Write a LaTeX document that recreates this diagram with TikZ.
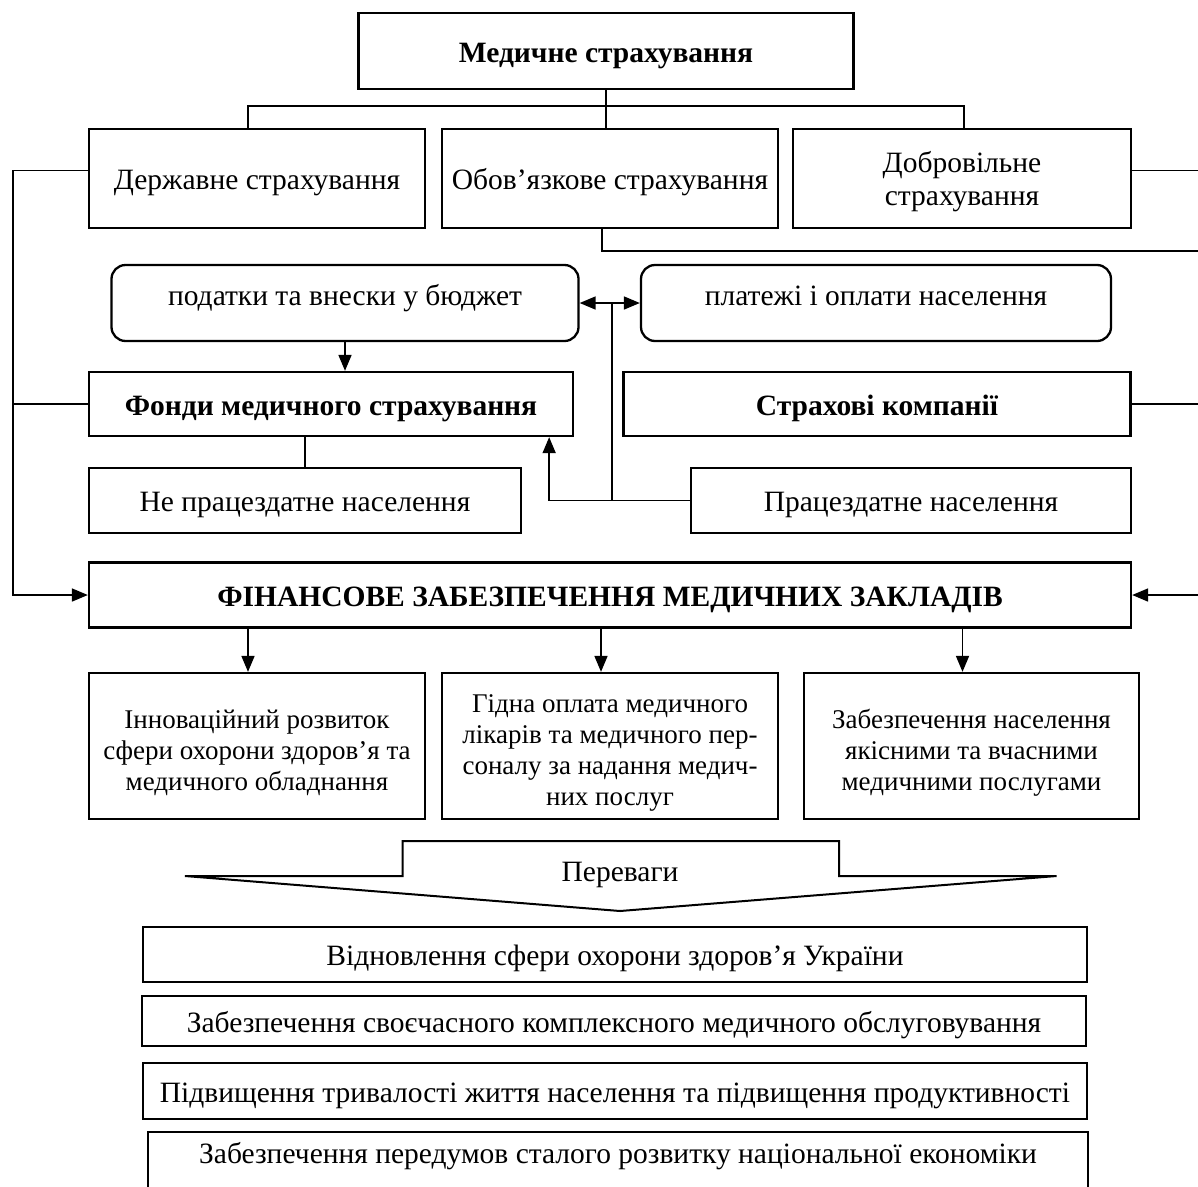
\documentclass[tikz,border=0pt]{standalone}
\usepackage{fontspec}
\setmainfont{Liberation Serif}
\usetikzlibrary{positioning,arrows.meta}

\def\topgap#1{\rule{0pt}{#1}}

\tikzset{
  box/.style={draw, line width=2.3pt, inner sep=0pt, align=center, text height=29pt, font=\fontsize{29.5}{33}\selectfont},
  bbox/.style={box, font=\fontsize{29.5}{33}\selectfont\bfseries},
  rbox/.style={box, rounded corners=14pt, text height=22pt, text depth=18pt},
  mbox/.style={box, text height=},
  sbox/.style={box, text height=, font=\fontsize{27}{31}\selectfont},
  link/.style={line width=1.7pt},
  arr/.style={link, -{Triangle[length=16pt,width=13pt]}},
  darr/.style={link, {Triangle[length=16pt,width=13pt]}-{Triangle[length=16pt,width=13pt]}}
}

\begin{document}
\begin{tikzpicture}[x=1pt, y=-1pt]
  \useasboundingbox (0,0) rectangle (1198,1186);

  % Insurance kinds
  \node[bbox, minimum width=495pt, minimum height=76pt] (med) at (606,51) {Медичне страхування};
  \node[box, minimum width=336pt, minimum height=99pt] (derzh) at (257,178.5) {Державне страхування};
  \node[box, minimum width=336pt, minimum height=99pt] (oboz) at (610,178.5) {Обов’язкове страхування};
  \node[mbox, minimum width=338pt, minimum height=99pt] (dobr) at (962,178.5) {\topgap{27pt}Добровільне\\страхування};

  \coordinate (bl) at (248,106);
  \coordinate (br) at (964,106);
  \draw[link] (bl |- derzh.north) -- (bl) -- (br) -- (br |- dobr.north);
  \draw[link] (med.south) -- (med.south |- oboz.north);

  % Sources of money
  \node[rbox, minimum width=467pt, minimum height=76pt] (pod) at (345,303) {податки та внески у бюджет};
  \node[rbox, minimum width=470pt, minimum height=76pt] (plat) at (876,303) {платежі і оплати населення};
  \draw[darr] (pod) -- (plat);

  % Funds and companies
  \node[bbox, minimum width=484pt, minimum height=64pt] (fondy) at (331,404) {Фонди медичного страхування};
  \node[bbox, minimum width=507pt, minimum height=64pt] (strah) at (877,404) {Страхові компанії};
  \node[box, minimum width=432pt, minimum height=65pt] (ne) at (305,500.5) {Не працездатне населення};
  \node[box, minimum width=440pt, minimum height=65pt] (prac) at (911,500.5) {Працездатне населення};

  \draw[arr] (pod.south) -- (pod.south |- fondy.north);
  \draw[link] (ne.north) -- (ne.north |- fondy.south);
  \coordinate (jn) at (612,303);
  \draw[link] (jn) -- (jn |- prac.west);
  \draw[arr] (prac.west) -| ([xshift=-25pt]fondy.south east);

  % Financing
  \node[bbox, minimum width=1042pt, minimum height=65pt] (fin) at (610,595) {ФІНАНСОВЕ ЗАБЕЗПЕЧЕННЯ МЕДИЧНИХ ЗАКЛАДІВ};

  \coordinate (lx) at (13,0);
  \coordinate (rx) at (1198,0);
  \coordinate (dl) at ([yshift=8pt]derzh.west);
  \coordinate (dr) at ([yshift=8pt]dobr.east);
  \coordinate (ob) at (602,251);
  \draw[arr] (dl) -- (dl -| lx) -- (lx |- fin.west) -- (fin.west);
  \draw[link] (fondy.west) -- (fondy.west -| lx);
  \draw[link] (dr) -- (dr -| rx);
  \draw[link] (oboz.south -| ob) -- (ob) -- (ob -| rx);
  \draw[link] (strah.east) -- (strah.east -| rx);
  \draw[arr] (fin.east -| rx) -- (fin.east);

  % Results
  \node[sbox, minimum width=336pt, minimum height=146pt] (inno) at (257,746) {\topgap{32pt}Інноваційний розвиток\\сфери охорони здоров’я та\\медичного обладнання};
  \node[sbox, minimum width=336pt, minimum height=146pt] (pay) at (610,746) {\topgap{32pt}Гідна оплата медичного\\лікарів та медичного пер-\\соналу за надання медич-\\них послуг};
  \node[sbox, minimum width=335pt, minimum height=146pt] (serv) at (971.5,746) {\topgap{32pt}Забезпечення населення\\якісними та вчасними\\медичними послугами};

  \foreach \b in {inno,pay,serv} {
    \path ([xshift=-9pt]\b.north) coordinate (t\b);
    \draw[arr] (t\b |- fin.south) -- (t\b);
  }

  % Advantages arrow
  \draw[line width=2pt] (185,876) -- (402.6,876) -- (402.6,841) -- (839,841) -- (839,876) -- (1056.5,876) -- (620,911) -- cycle;
  \node[font=\fontsize{29.5}{33}\selectfont] (perev) at (620,875) {Переваги};

  \node[box, minimum width=944pt, minimum height=55pt] (adv1) at (615,954.3) {Відновлення сфери охорони здоров’я України};
  \node[box, minimum width=944pt, minimum height=50pt] (adv2) at (614,1021) {Забезпечення своєчасного комплексного медичного обслуговування};
  \node[box, minimum width=944pt, minimum height=56pt] (adv3) at (615,1091) {Підвищення тривалості життя населення та підвищення продуктивності};
  \node[box, minimum width=940pt, minimum height=56pt, text height=22pt, text depth=16pt] (adv4) at (618,1160) {Забезпечення передумов сталого розвитку національної економіки};

\end{tikzpicture}
\end{document}
